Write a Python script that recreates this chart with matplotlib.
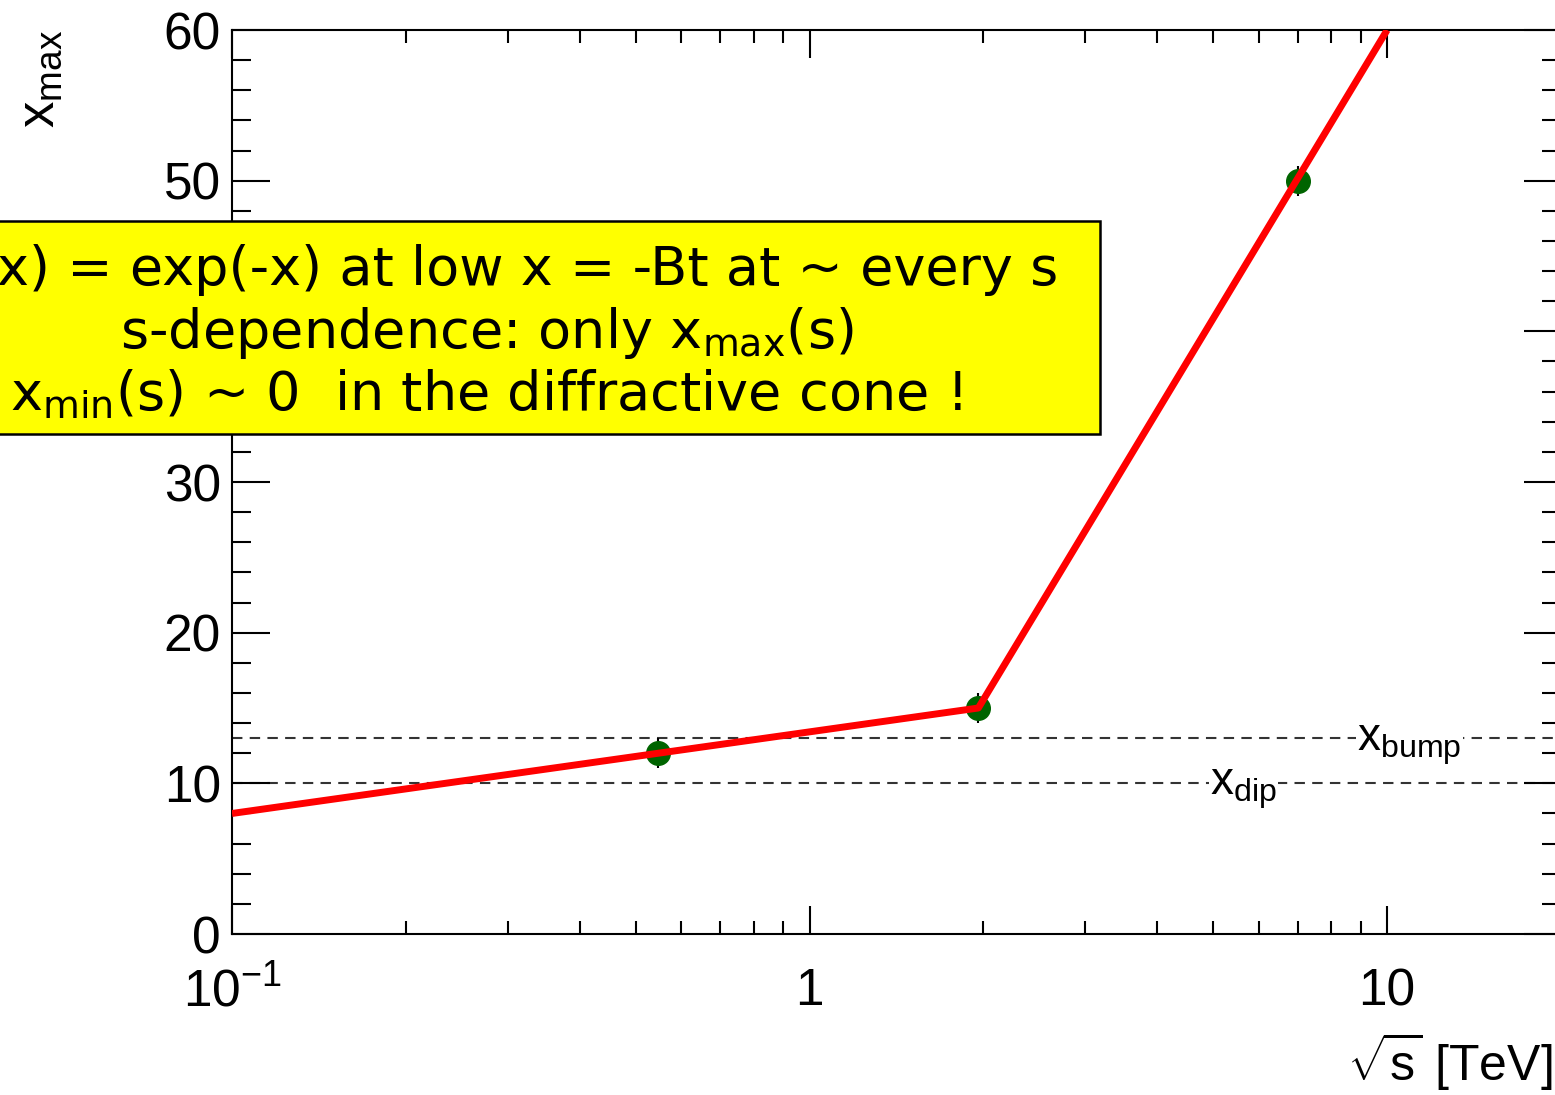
import matplotlib
matplotlib.use('Agg')
import matplotlib.pyplot as plt
from matplotlib.patches import Rectangle
from matplotlib.ticker import FixedLocator, LogLocator, MultipleLocator, NullFormatter
import numpy as np

# measured points (sqrt(s) in TeV, x_max)
sqrt_s = [0.546, 1.96, 7.0]
x_max = [12.0, 15.0, 50.0]
x_max_err = [1.0, 1.0, 1.0]

# broken-line guide through the points
fit_s = [0.1, 1.96, 10.0]
fit_x = [8.0, 15.0, 60.0]

x_dip = 10.0
x_bump = 13.0

x_ticks = [0.1, 1, 10]
x_ticklabels = [r'$\mathregular{10^{-1}}$', '1', '10']

box_lines = [
    'x) = exp(-x) at low x = -Bt at ~ every s',
    r's-dependence: only x$_{\mathregular{max}}$(s)',
    r'x$_{\mathregular{min}}$(s) ~ 0  in the diffractive cone !',
]

W, H = 1555, 1095
plt.rcParams['mathtext.fontset'] = 'custom'
plt.rcParams['mathtext.rm'] = 'Liberation Sans'
plt.rcParams['mathtext.it'] = 'Liberation Sans:italic'

fig = plt.figure(figsize=(W / 100, H / 100), dpi=100)
fig.patch.set_facecolor('white')

def fx(px):
    return px / W

def fy(py):
    return 1 - py / H

ax = fig.add_axes([fx(232), fy(934), fx(1561) - fx(232), fy(30) - fy(934)])
ax.set_xscale('log')
ax.set_xlim(0.1, 20)
ax.set_ylim(0, 60)

ax.axhline(x_dip, color='#333333', lw=1.5, ls=(0, (5, 3.5)), zorder=1)
ax.axhline(x_bump, color='#333333', lw=1.5, ls=(0, (5, 3.5)), zorder=1)

ax.errorbar(sqrt_s, x_max, yerr=x_max_err, fmt='o', color='#006400',
            ms=17, ecolor='black', elinewidth=1.5, capsize=0, zorder=3)
ax.plot(fit_s, fit_x, color='red', lw=5, zorder=4, solid_capstyle='butt')

lbl_font = dict(family='Liberation Sans', size=33)
ax.text(8.87, 12.2, r'x$_{\mathregular{bump}}$', va='baseline', ha='left',
        bbox=dict(facecolor='white', edgecolor='none', pad=1), zorder=2, **lbl_font)
ax.text(4.94, 9.25, r'x$_{\mathregular{dip}}$', va='baseline', ha='left',
        bbox=dict(facecolor='white', edgecolor='none', pad=1), zorder=2, **lbl_font)

ax.xaxis.set_major_locator(FixedLocator(x_ticks))
ax.set_xticklabels(x_ticklabels)
ax.xaxis.set_minor_locator(LogLocator(base=10, subs=np.arange(2, 10)))
ax.xaxis.set_minor_formatter(NullFormatter())
ax.yaxis.set_major_locator(MultipleLocator(10))
ax.yaxis.set_minor_locator(MultipleLocator(2))

ax.tick_params(which='both', direction='in', top=True, right=True, width=1.5, color='black')
ax.tick_params(axis='x', which='major', length=20, pad=24)
ax.tick_params(axis='x', which='minor', length=9.5)
ax.tick_params(axis='y', which='major', length=27, pad=8)
ax.tick_params(axis='y', which='minor', length=13.5)
for lab in ax.get_xticklabels() + ax.get_yticklabels():
    lab.set_fontfamily('Liberation Sans')
    lab.set_fontsize(37)
for sp in ax.spines.values():
    sp.set_linewidth(1.5)

fig.text(fx(1552), fy(1080), r'$\sqrt{\mathregular{s}}$ [TeV]', ha='right', va='baseline',
         family='Liberation Sans', size=36)
fig.text(fx(40), fy(30), r'x$_{\mathregular{max}}$', rotation=90, ha='center', va='top',
         family='Liberation Sans', size=38)

box = Rectangle((fx(-20), fy(434)), fx(1100) - fx(-20), fy(221) - fy(434),
                transform=fig.transFigure, facecolor='yellow', edgecolor='black',
                lw=1.8, zorder=10)
fig.add_artist(box)
box_font = dict(family='DejaVu Sans', size=39, zorder=11)
fig.text(fx(1058), fy(285), box_lines[0], ha='right', va='baseline', **box_font)
fig.text(fx(487), fy(348), box_lines[1], ha='center', va='baseline', **box_font)
fig.text(fx(486), fy(411), box_lines[2], ha='center', va='baseline', **box_font)

fig.savefig('out.png', dpi=100)
